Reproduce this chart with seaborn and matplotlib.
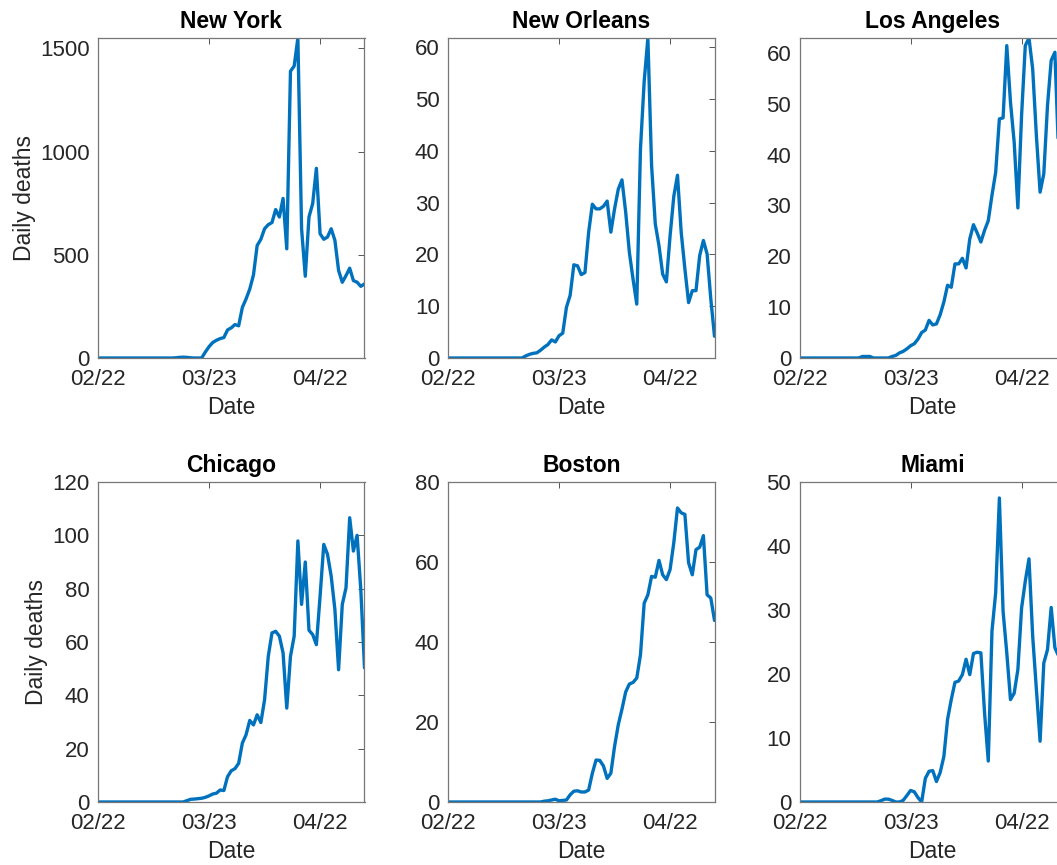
import numpy as np
import pandas as pd
import matplotlib
matplotlib.use("Agg")
import matplotlib.pyplot as plt
import matplotlib.dates as mdates
from matplotlib.ticker import MultipleLocator
import seaborn as sns

# daily deaths, one value per day from 2020-02-22 to 2020-05-04
dates = pd.date_range("2020-02-22", periods=73, freq="D")

new_york = [0] * 21 + [
    1, 3, 4, 3, 1, 0, 0, 0,
    29, 55, 75, 86, 94, 99, 136, 146, 162, 156,
    245, 286, 334, 402, 545, 575, 626, 646, 656, 719,
    683, 773, 529, 1389, 1414, 1550, 626, 396, 683, 748,
    919, 602, 575, 586, 626, 570, 424, 367, 399, 435,
    375, 367, 347, 359]

new_orleans = [0] * 20 + [
    0, 0.4, 0.7, 0.9, 1.0, 1.5, 2.1, 2.6, 3.5, 3.1,
    4.3, 4.8, 9.8, 12.1, 18.0, 17.8, 16.1, 16.5, 24.3, 29.7,
    28.8, 28.8, 29.3, 30.3, 24.3, 28.8, 32.6, 34.4, 28.2, 20.4,
    15.2, 10.4, 40.4, 53.4, 61.8, 37.2, 25.9, 21.7, 16.2, 14.7,
    23.6, 31.2, 35.3, 24.3, 17.2, 10.7, 13.0, 13.0, 19.8, 22.7,
    20.1, 11.4, 4.2]

los_angeles = [0] * 17 + [
    0.3, 0.3, 0.3, 0, 0, 0, 0, 0,
    0.3, 0.5, 1.0, 1.3, 1.8,
    2.4, 2.8, 3.7, 5.0, 5.5, 7.4, 6.5, 6.7, 8.5, 11.0,
    14.3, 13.9, 18.5, 18.5, 19.6, 17.7, 23.4, 26.2, 24.6, 22.8,
    25.1, 27.0, 32.0, 36.5, 47.0, 47.2, 61.4, 50.3, 42.4, 29.5,
    47.7, 61.4, 62.9, 56.8, 43.7, 32.6, 36.2, 49.6, 58.5, 60.1,
    40.0, 35.0, 30.0]

chicago = [0] * 24 + [
    0.5, 1.0, 1.1, 1.25, 1.4, 1.75,
    2.3, 3.0, 3.3, 4.5, 4.3, 9.5, 11.7, 12.5, 14.5, 22.1,
    25.2, 30.6, 28.9, 32.7, 29.8, 38.3, 54.6, 63.4, 64.0, 62.2,
    55.9, 35.2, 54.6, 62.2, 97.9, 74.1, 90.0, 64.4, 62.8, 59.0,
    77.2, 96.6, 92.9, 84.7, 72.2, 49.6, 74.1, 80.3, 106.6, 94.1,
    100.0, 79.7, 50.3]

boston = [0] * 25 + [
    0, 0.2, 0.3, 0.5, 0.7,
    0.3, 0.4, 0.5, 1.8, 2.7, 2.8, 2.5, 2.5, 3.0, 7.2,
    10.5, 10.4, 9.0, 5.9, 7.2, 13.9, 19.3, 23.2, 27.5, 29.5,
    29.9, 31.0, 36.8, 49.7, 51.8, 56.4, 56.2, 60.4, 56.8, 55.6,
    58.1, 64.8, 73.5, 72.3, 71.9, 59.8, 56.8, 63.1, 63.7, 66.6,
    51.8, 51.0, 45.4]

miami = [0] * 22 + [
    0.2, 0.45, 0.45, 0.25, 0, 0, 0.25, 1.0,
    1.8, 1.6, 0.7, 0, 3.7, 4.8, 4.9, 3.2, 4.6, 7.1,
    12.9, 16.0, 18.7, 18.9, 19.9, 22.3, 19.9, 23.2, 23.4, 23.3,
    13.9, 6.4, 26.7, 32.7, 47.5, 29.8, 23.3, 16.0, 17.0, 20.7,
    30.3, 34.5, 38.0, 25.9, 17.6, 9.5, 21.7, 23.8, 30.4, 24.1,
    22.8, 18.0, 15.0]

cities = ["New York", "New Orleans", "Los Angeles", "Chicago", "Boston", "Miami"]
series = [new_york, new_orleans, los_angeles, chicago, boston, miami]
y_limits = [(0, 1550), (0, 61.8), (0, 62.9), (0, 120), (0, 80), (0, 50)]
y_steps = [500, 10, 10, 20, 20, 10]

sns.set_style("white")
plt.rcParams["font.family"] = ["Liberation Sans", "DejaVu Sans"]

W, H = 1057, 865
fig = plt.figure(figsize=(W / 100, H / 100), dpi=100)

# axes boxes in pixels (left, top); third column runs past the right edge
lefts = [98, 448, 799.5]
tops = [38, 482]
ax_w, ax_h = 266.5, 320

text_col = "#262626"
for i, (city, vals) in enumerate(zip(cities, series)):
    r, c = divmod(i, 3)
    ax = fig.add_axes([lefts[c] / W, 1 - (tops[r] + ax_h) / H, ax_w / W, ax_h / H])
    df = pd.DataFrame({"Date": dates, "deaths": vals})
    sns.lineplot(data=df, x="Date", y="deaths", ax=ax, color="#0072BD", linewidth=2.4)
    ax.set_xlim(dates[0], dates[-1])
    ax.set_ylim(*y_limits[i])
    ax.yaxis.set_major_locator(MultipleLocator(y_steps[i]))
    ax.set_xticks([dates[0], dates[30], dates[60]])
    ax.xaxis.set_major_formatter(mdates.DateFormatter("%m/%d"))
    ax.tick_params(direction="in", top=True, right=True, length=4, width=0.7,
                   labelsize=16, colors=text_col, color="#555555")
    ax.tick_params(axis="x", pad=8)
    ax.tick_params(axis="y", pad=6)
    for sp in ax.spines.values():
        sp.set_color("#777777")
        sp.set_linewidth(0.9)
    ax.set_title(city, fontsize=16.5, fontweight="bold", color="black", pad=7)
    ax.set_xlabel("Date", fontsize=16.5, color=text_col, labelpad=4)
    if c == 0:
        ax.set_ylabel("Daily deaths", fontsize=16.5, color=text_col, labelpad=3)
    else:
        ax.set_ylabel("")

fig.savefig("out.png", dpi=100)
